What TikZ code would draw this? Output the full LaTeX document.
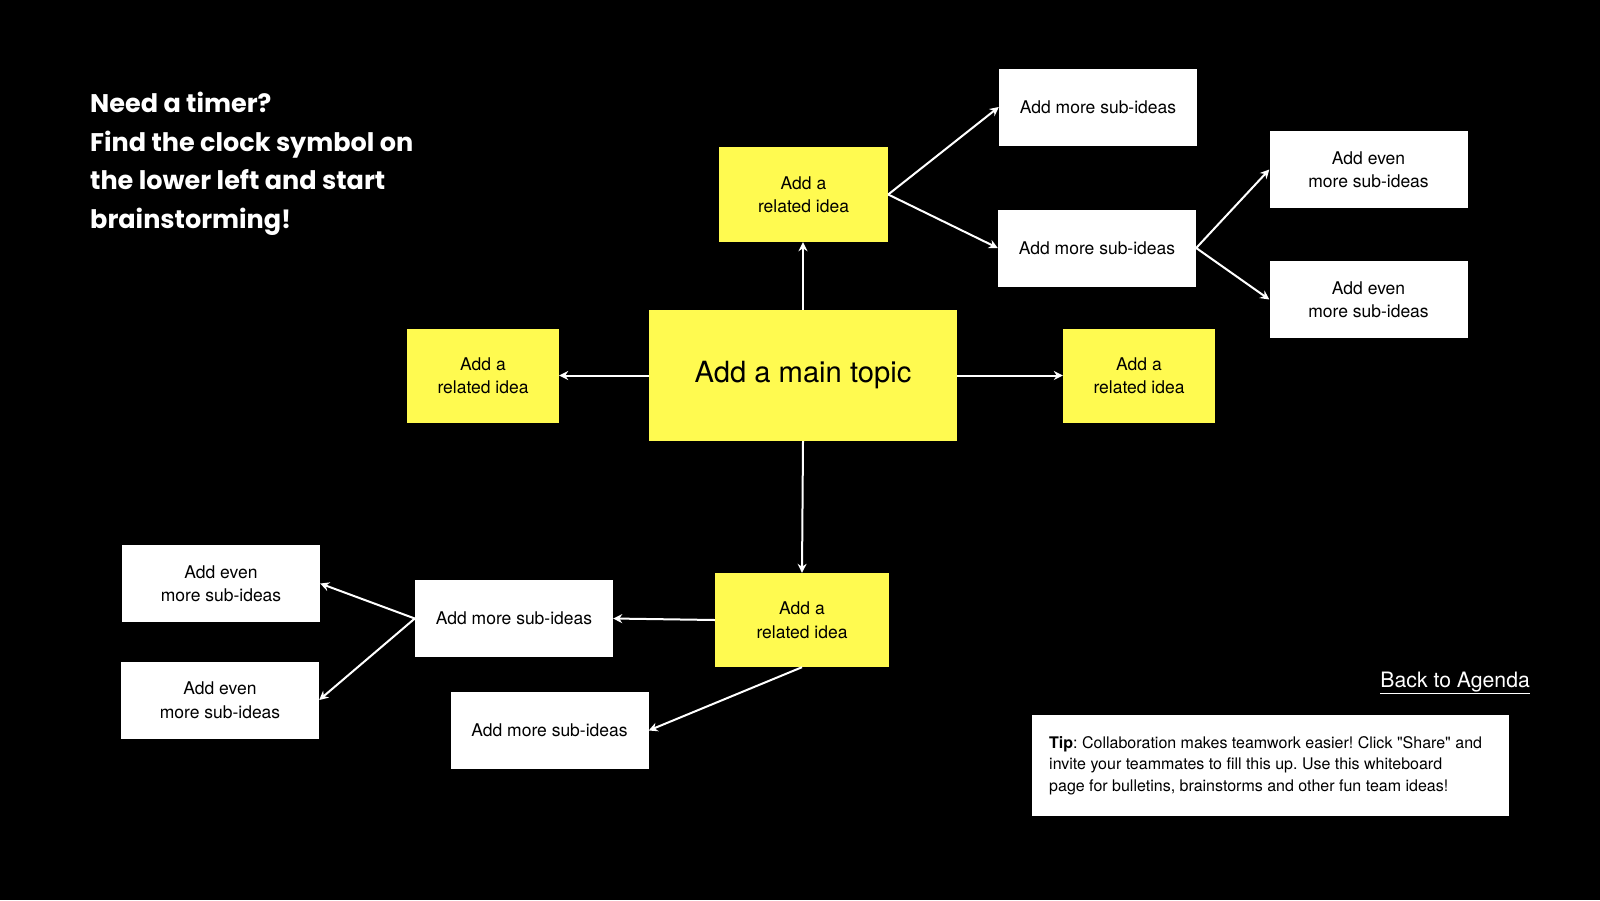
\documentclass[tikz,border=0pt]{standalone}
\usepackage{fontspec}
\setmainfont{TeX Gyre Heros}
\newfontfamily\plainfont{TeX Gyre Heros}
\newfontfamily\headfont{Poppins}
\usetikzlibrary{arrows.meta}
\definecolor{yel}{RGB}{255,250,80}
\frenchspacing
\begin{document}
\begin{tikzpicture}[x=1pt,y=-1pt,
  yb/.style={fill=yel, inner sep=0pt, align=center, text=black, font=\fontsize{17.5}{23.5}\selectfont},
  wb/.style={fill=white, inner sep=0pt, align=center, text=black, minimum width=198pt, minimum height=77pt, font=\fontsize{17.5}{23.5}\selectfont},
  conn/.style={draw=white, line width=2pt, -{Stealth[length=9pt,width=9pt]}}]
\fill[black] (0,0) rectangle (1600,900);
\useasboundingbox (0,0) rectangle (1600,900);

\node[anchor=north west, inner sep=0pt, align=left, text=white, font=\headfont\bfseries\fontsize{25.5}{38.5}\selectfont] (head) at (90,92)
  {Need a timer?\\Find the clock symbol on\\the lower left and start\\brainstorming!};

\node[yb, minimum width=308pt, minimum height=131pt, font=\fontsize{29.2}{34}\selectfont] (main) at (803,375.5) {Add a main topic};
\node[yb, minimum width=169pt, minimum height=95pt] (topr) at (803.5,194.5) {Add a\\related idea};
\node[yb, minimum width=152pt, minimum height=94pt] (leftr) at (483,375.5) {Add a\\related idea};
\node[yb, minimum width=152pt, minimum height=94pt] (rightr) at (1139,375.5) {Add a\\related idea};
\node[yb, minimum width=174pt, minimum height=94pt] (botr) at (802,620) {Add a\\related idea};

\node[wb] (st1) at (1098,107) {Add more sub-ideas};
\node[wb] (st2) at (1097,248) {Add more sub-ideas};
\node[wb] (ev1) at (1368.5,169.5) {Add even\\more sub-ideas};
\node[wb] (ev2) at (1368.5,299.5) {Add even\\more sub-ideas};
\node[wb] (bs1) at (514,618.5) {Add more sub-ideas};
\node[wb] (bs2) at (549.5,730.5) {Add more sub-ideas};
\node[wb] (ev3) at (221,583.5) {Add even\\more sub-ideas};
\node[wb] (ev4) at (220,700) {Add even\\more sub-ideas};

\node[fill=white, minimum width=477pt, minimum height=101pt, inner sep=0pt] (tip) at (1270.5,765.5) {};
\node[anchor=west, inner sep=0pt, align=left, text=black, font=\plainfont\fontsize{16}{21.5}\selectfont] (tiptext) at (1049,765.5)
  {\textbf{Tip}: Collaboration makes teamwork easier! Click "Share" and\\invite your teammates to fill this up. Use this whiteboard\\page for bulletins, brainstorms and other fun team ideas!};

\node[anchor=east, inner sep=0pt, text=white, font=\fontsize{21.2}{24}\selectfont] (back) at (1530,683) {\underline{Back to Agenda}};

\draw[conn] (main.north) -- (main.north |- topr.south);
\draw[conn] (main.west) -- (leftr.east);
\draw[conn] (main.east) -- (rightr.west);
\draw[conn] (main.south) -- (botr.north);
\draw[conn] (topr.east) -- (st1.west);
\draw[conn] (topr.east) -- (st2.west);
\draw[conn] (st2.east) -- (ev1.west);
\draw[conn] (st2.east) -- (ev2.west);
\draw[conn] (botr.west) -- (bs1.east);
\draw[conn] (botr.south) -- (bs2.east);
\draw[conn] (bs1.west) -- (ev3.east);
\draw[conn] (bs1.west) -- (ev4.east);
\end{tikzpicture}
\end{document}
